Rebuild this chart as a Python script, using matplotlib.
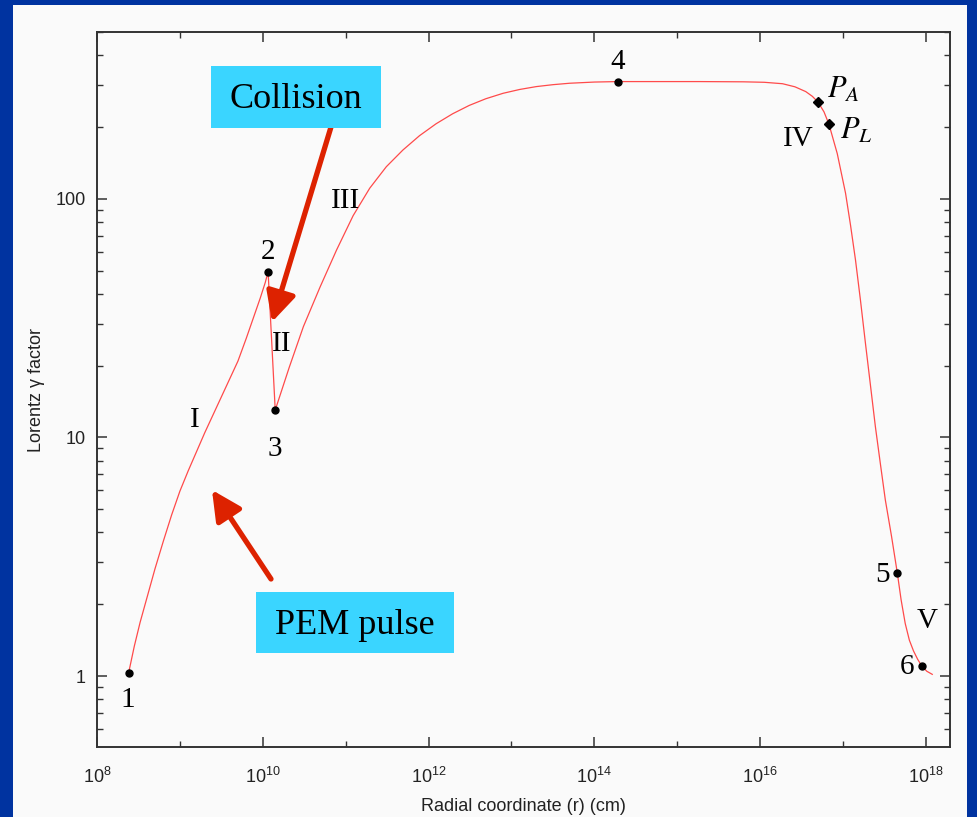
import matplotlib.pyplot as plt
from matplotlib.patches import Rectangle
from matplotlib.ticker import FixedLocator, NullFormatter

plt.rcParams.update({
    "font.family": "Liberation Sans",
    "mathtext.fontset": "custom",
    "mathtext.rm": "Liberation Sans",
    "mathtext.it": "Liberation Sans:italic",
})

W, H = 978, 817

# log10 of radius (cm) and log10 of gamma along the curve, phases I..V
log_r = [8.382, 8.45, 8.52, 8.60, 8.70, 8.80, 8.90, 9.00, 9.10, 9.20,
         9.30, 9.40, 9.50, 9.60, 9.70, 9.80, 9.90, 9.97, 10.03, 10.064,
         10.15, 10.32, 10.49, 10.69, 10.89, 11.09, 11.29, 11.49, 11.69,
         11.89, 12.09, 12.29, 12.49, 12.69, 12.90, 13.10, 13.30, 13.50,
         13.70, 14.00, 14.28,
         15.27, 15.80, 16.05, 16.27, 16.42, 16.55, 16.63, 16.70, 16.77,
         16.83, 16.93, 17.03, 17.09, 17.15, 17.21, 17.27, 17.33, 17.39,
         17.45, 17.51, 17.585, 17.654, 17.70, 17.75, 17.80, 17.85, 17.90,
         17.948, 18.01, 18.076]
log_g = [0.014, 0.125, 0.225, 0.325, 0.45, 0.565, 0.675, 0.775, 0.86, 0.94,
         1.02, 1.095, 1.17, 1.245, 1.32, 1.415, 1.515, 1.585, 1.65, 1.695,
         1.115, 1.295, 1.465, 1.63, 1.786, 1.93, 2.045, 2.135, 2.205,
         2.265, 2.315, 2.357, 2.392, 2.42, 2.443, 2.459, 2.471, 2.479,
         2.485, 2.49, 2.492,
         2.492, 2.491, 2.489, 2.483, 2.47, 2.45, 2.43, 2.405, 2.365,
         2.313, 2.19, 2.024, 1.89, 1.744, 1.575, 1.395, 1.22, 1.045,
         0.89, 0.738, 0.585, 0.433, 0.32, 0.22, 0.15, 0.105, 0.07,
         0.043, 0.02, 0.007]
radius = [10 ** v for v in log_r]
gamma = [10 ** v for v in log_g]

# numbered transition points
pt_names = ["1", "2", "3", "4", "5", "6"]
pt_r = [2.41e8, 1.16e10, 1.41e10, 1.91e14, 4.51e17, 8.87e17]
pt_g = [1.03, 49.5, 13.0, 310, 2.71, 1.10]

# P_A and P_L points
diam_r = [5.01e16, 6.76e16]
diam_g = [254, 206]

x_major = [1e8, 1e10, 1e12, 1e14, 1e16, 1e18]
x_minor = [1e9, 1e11, 1e13, 1e15, 1e17]
x_ticklabels = [r"$10^{8}$", r"$10^{10}$", r"$10^{12}$", r"$10^{14}$",
                r"$10^{16}$", r"$10^{18}$"]

fig = plt.figure(figsize=(W / 100, H / 100), dpi=100)
fig.patch.set_facecolor("#0033a0")
fig.patches.append(Rectangle((13 / W, 0), (967 - 13) / W, 1 - 5 / H,
                             transform=fig.transFigure, facecolor="#fafafa",
                             edgecolor="none", zorder=-10))


def fpx(x, y):
    # pixel position measured from the top-left corner -> figure fraction
    return x / W, 1 - y / H


ax = fig.add_axes([97 / W, 1 - 747 / H, (950 - 97) / W, (747 - 32) / H])
ax.set_facecolor("#fafafa")
ax.set_xscale("log")
ax.set_yscale("log")
ax.set_xlim(1e8, 1.95e18)
ax.set_ylim(0.504, 501)

ax.plot(radius, gamma, color="#ff4a4a", lw=0.9, zorder=2)
ax.plot(pt_r, pt_g, "o", color="black", ms=5, zorder=3)
ax.plot(diam_r, diam_g, "D", color="black", ms=5, zorder=3)

ax.xaxis.set_major_locator(FixedLocator(x_major))
ax.xaxis.set_minor_locator(FixedLocator(x_minor))
ax.xaxis.set_minor_formatter(NullFormatter())
ax.set_xticklabels(x_ticklabels)
ax.set_yticks([1, 10, 100])
ax.set_yticklabels(["1", "10", "100"])
ax.yaxis.set_minor_formatter(NullFormatter())

ax.tick_params(which="both", direction="in", top=True, right=True,
               colors="#333333", labelcolor="#222222", labelsize=13)
ax.tick_params(which="major", length=7, width=1.1)
ax.tick_params(which="minor", length=4, width=1.0)
ax.tick_params(axis="x", which="major", pad=14)
ax.tick_params(axis="y", which="major", pad=8)
for s in ax.spines.values():
    s.set_color("#333333")
    s.set_linewidth(1.4)

ax.set_xlabel("Radial coordinate (r) (cm)", fontsize=13, color="#222222",
              labelpad=8)
ax.set_ylabel("Lorentz γ factor", fontsize=13, color="#222222", labelpad=8)

serif = dict(family="Liberation Serif", fontsize=21, color="black",
             ha="center", va="center")
labels = [("1", 128, 700), ("2", 268, 252), ("3", 275, 449), ("4", 618, 62),
          ("5", 883, 575), ("6", 907, 667), ("I", 195, 420), ("II", 282, 344),
          ("III", 346, 201), ("IV", 798, 139), ("V", 927, 621)]
for txt, px, py in labels:
    fig.text(*fpx(px, py), txt, **serif)
fig.text(*fpx(827, 90), r"$P_A$", family="Liberation Serif", fontsize=22,
         math_fontfamily="stix", ha="left", va="center")
fig.text(*fpx(840, 131), r"$P_L$", family="Liberation Serif", fontsize=22,
         math_fontfamily="stix", ha="left", va="center")

# callout boxes
box_col = "#3ad5ff"
for (x0, y0, x1, y1), txt in [((211, 66, 381, 128), "Collision"),
                              ((256, 592, 454, 653), "PEM pulse")]:
    fig.patches.append(Rectangle(fpx(x0, y1), (x1 - x0) / W, (y1 - y0) / H,
                                 transform=fig.transFigure, facecolor=box_col,
                                 edgecolor="none", zorder=5))
    fig.text(*fpx((x0 + x1) / 2, (y0 + y1) / 2 + 3), txt,
             family="Liberation Serif", fontsize=26, color="black",
             ha="center", va="center", zorder=6)

arrow = dict(arrowstyle="-|>,head_length=0.4,head_width=0.2", lw=3.8,
             color="#dd2200", mutation_scale=45, shrinkA=0, shrinkB=0)
for tail, tip in [((331, 127), (272, 322)), ((271, 579), (212, 490))]:
    ax.annotate("", xy=fpx(*tip), xytext=fpx(*tail),
                xycoords="figure fraction", textcoords="figure fraction",
                arrowprops=arrow, zorder=6)

fig.savefig("out.png", dpi=100, facecolor=fig.get_facecolor())
